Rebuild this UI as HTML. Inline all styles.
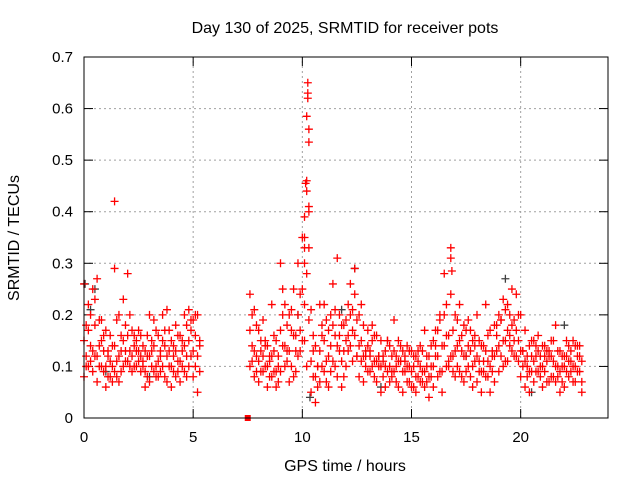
<!DOCTYPE html>
<html><head><meta charset="utf-8"><style>
body{margin:0;background:#fff}
svg{display:block;font-family:"Liberation Sans",Arial,sans-serif}
</style></head><body>
<svg id="chart" width="640" height="480" viewBox="0 0 640 480" xmlns="http://www.w3.org/2000/svg">
<text x="345" y="33" font-size="16" text-anchor="middle">Day 130 of 2025, SRMTID for receiver pots</text>
<text transform="translate(19,238) rotate(-90)" font-size="16" text-anchor="middle">SRMTID / TECUs</text>
<text x="345" y="471" font-size="16" text-anchor="middle">GPS time / hours</text>
<g id="grid"></g><g id="ticks"></g><g id="marks"></g>
<rect x="84" y="57" width="524" height="361" fill="none" stroke="#000" stroke-width="1"/>
</svg>
<script>
const xTicks=[0,5,10,15,20];
const yTicks=[0,0.1,0.2,0.3,0.4,0.5,0.6,0.7];
const yTickLabels=["0","0.1","0.2","0.3","0.4","0.5","0.6","0.7"];
const times=[0,0.2,0.4,0.6,0.8,1.0,1.2,1.4,1.6,1.8,2.0,2.2,2.4,2.6,2.8,3.0,3.2,3.4,3.6,3.8,4.0,4.2,4.4,4.6,4.8,5.0,5.2,
7.6,7.8,8.0,8.2,8.4,8.6,8.8,9.0,9.2,9.4,9.6,9.8,10.0,10.2,10.4,10.6,10.8,11.0,11.2,11.4,11.6,11.8,12.0,12.2,12.4,12.6,12.8,13.0,13.2,13.4,13.6,13.8,14.0,14.2,14.4,14.6,14.8,15.0,15.2,15.4,15.6,15.8,16.0,16.2,16.4,16.6,16.8,17.0,17.2,17.4,17.6,17.8,18.0,18.2,18.4,18.6,18.8,19.0,19.2,19.4,19.6,19.8,20.0,20.2,20.4,20.6,20.8,21.0,21.2,21.4,21.6,21.8,22.0,22.2,22.4,22.6,22.8];
const lowVals=[.08,.10,.09,.07,.10,.06,.08,.09,.07,.10,.11,.09,.10,.09,.06,.07,.09,.08,.10,.07,.06,.08,.07,.09,.10,.08,.05,
.10,.08,.07,.09,.06,.08,.06,.09,.10,.07,.08,.12,.15,.10,.05,.03,.07,.09,.06,.11,.08,.06,.10,.14,.16,.08,.07,.09,.10,.07,.05,.06,.07,.09,.06,.05,.07,.06,.05,.07,.06,.04,.06,.08,.05,.10,.12,.08,.09,.07,.10,.06,.07,.05,.08,.05,.07,.09,.10,.11,.13,.12,.08,.06,.05,.07,.09,.06,.07,.08,.07,.05,.06,.08,.07,.09,.05];
const midVals=[.15,.17,.13,.12,.15,.10,.11,.14,.12,.15,.16,.12,.13,.12,.09,.12,.14,.11,.15,.12,.10,.13,.11,.14,.15,.13,.12,
.17,.13,.11,.12,.10,.12,.09,.17,.14,.13,.16,.20,.25,.28,.11,.08,.13,.15,.12,.18,.14,.11,.15,.20,.24,.14,.12,.14,.15,.11,.10,.10,.10,.13,.11,.09,.10,.09,.08,.10,.09,.08,.10,.12,.09,.16,.24,.13,.15,.12,.14,.10,.12,.09,.13,.10,.12,.14,.15,.17,.18,.17,.13,.11,.09,.11,.13,.10,.11,.12,.10,.09,.10,.11,.10,.12,.07];
const highVals=[.26,.22,.25,.27,.19,.17,.16,.29,.20,.23,.28,.17,.15,.16,.13,.20,.19,.16,.20,.21,.15,.18,.16,.20,.21,.19,.20,
.24,.21,.17,.19,.14,.22,.15,.30,.22,.20,.25,.30,.35,.46,.21,.14,.22,.22,.17,.26,.31,.18,.19,.26,.29,.20,.18,.17,.18,.16,.15,.13,.14,.19,.15,.13,.14,.13,.12,.14,.17,.12,.15,.17,.14,.22,.33,.20,.22,.18,.19,.15,.20,.14,.22,.17,.18,.20,.23,.22,.25,.24,.20,.17,.14,.15,.16,.14,.13,.15,.18,.13,.12,.14,.15,.14,.11];
const times2=[0.1,0.3,0.5,0.7,0.9,1.1,1.3,1.5,1.7,1.9,2.1,2.3,2.5,2.7,2.9,3.1,3.3,3.5,3.7,3.9,4.1,4.3,4.5,4.7,4.9,5.1,5.3,
7.7,7.9,8.1,8.3,8.5,8.7,8.9,9.1,9.3,9.5,9.7,9.9,10.1,10.3,10.5,10.7,10.9,11.1,11.3,11.5,11.7,11.9,12.1,12.3,12.5,12.7,12.9,13.1,13.3,13.5,13.7,13.9,14.1,14.3,14.5,14.7,14.9,15.1,15.3,15.5,15.7,15.9,16.1,16.3,16.5,16.7,16.9,17.1,17.3,17.5,17.7,17.9,18.1,18.3,18.5,18.7,18.9,19.1,19.3,19.5,19.7,19.9,20.1,20.3,20.5,20.7,20.9,21.1,21.3,21.5,21.7,21.9,22.1,22.3,22.5,22.7];
const valsA=[.12,.20,.18,.14,.09,.13,.07,.11,.16,.13,.10,.14,.17,.11,.08,.15,.10,.13,.08,.17,.12,.09,.15,.12,.17,.10,.14,
.20,.12,.15,.10,.12,.09,.12,.20,.18,.10,.13,.24,.22,.19,.16,.10,.18,.11,.14,.16,.20,.13,.16,.17,.12,.11,.12,.13,.08,.12,.11,.15,.08,.12,.11,.11,.10,.12,.11,.07,.12,.14,.12,.19,.28,.11,.17,.10,.16,.12,.17,.11,.15,.14,.08,.12,.13,.19,.15,.20,.19,.15,.10,.08,.12,.14,.12,.09,.13,.11,.08,.12,.09,.13,.10,.09];
const valsB=[.18,.11,.23,.10,.13,.08,.14,.19,.09,.18,.13,.16,.11,.14,.12,.10,.17,.09,.14,.10,.14,.16,.10,.18,.12,.16,.09,
.14,.09,.13,.15,.08,.16,.07,.25,.11,.17,.09,.17,.30,.33,.08,.06,.10,.19,.09,.21,.13,.08,.13,.21,.19,.22,.10,.09,.16,.12,.08,.15,.09,.07,.11,.09,.13,.06,.08,.13,.07,.10,.14,.09,.20,.16,.09,.14,.08,.17,.08,.14,.09,.11,.11,.09,.18,.12,.21,.16,.15,.20,.13,.12,.09,.09,.08,.12,.07,.15,.10,.07,.12,.09,.14,.12];
const valsC=[.10,.14,.12,.19,.16,.12,.10,.08,.13,.11,.20,.10,.13,.10,.16,.13,.08,.12,.17,.13,.09,.11,.13,.08,.19,.20,.15,
.11,.18,.09,.14,.11,.13,.10,.14,.13,.21,.16,.13,.15,.40,.13,.10,.16,.07,.20,.10,.16,.18,.22,.11,.12,.15,.13,.12,.11,.10,.12,.09,.12,.10,.14,.12,.07,.10,.13,.09,.10,.08,.17,.20,.14,.10,.12,.19,.13,.09,.13,.16,.11,.09,.16,.13,.16,.19,.11,.14,.12,.11,.13,.10,.15,.12,.10,.14,.12,.08,.13,.10,.15,.11,.07,.14];
const spikeTimes=[10.25,10.25,10.3,10.3,10.15,10.2,10.3,10.1,1.4,10.1,16.8,10.2,10.1,10.25,16.85];
const spikeVals=[.65,.62,.56,.535,.455,.44,.41,.39,.42,.33,.31,.585,.35,.63,.285];
const grayTimes=[0.05,0.3,0.5,9.8,10.35,12.4,19.3,22.0,13.6,3.0,20.5,11.8,1.0,17.5];
const grayVals=[.26,.21,.25,.20,.04,.29,.27,.18,.06,.08,.05,.21,.09,.12];
const zeroTimes=[7.5];
const zeroVals=[0];

const NS="http://www.w3.org/2000/svg";
const X0=84,X1=608,Y0=418,Y1=57;
function xs(t){return X0+(t/24)*(X1-X0);}
function ys(v){return Y0-(v/0.7)*(Y0-Y1);}
function mk(tag,attrs,parent){const e=document.createElementNS(NS,tag);for(const k in attrs)e.setAttribute(k,attrs[k]);parent.appendChild(e);return e;}
const grid=document.getElementById('grid'),ticks=document.getElementById('ticks'),marks=document.getElementById('marks');
yTicks.forEach((v,i)=>{
 const y=ys(v);
 if(i>0&&i<yTicks.length-1){const g=mk('line',{x1:X0,x2:X1,y1:y,y2:y,stroke:'#a0a0a0','stroke-dasharray':'2,3'},grid);
 
 }
 mk('line',{x1:X0,x2:X0+9,y1:y,y2:y,stroke:'#000'},ticks);
 mk('line',{x1:X1-9,x2:X1,y1:y,y2:y,stroke:'#000'},ticks);
 const t=mk('text',{x:X0-11,y:y+5,'font-size':15,'text-anchor':'end'},ticks);t.textContent=yTickLabels[i];
 
 
});
xTicks.forEach(v=>{
 const x=xs(v);
 if(v>0){const g=mk('line',{x1:x,x2:x,y1:Y0,y2:Y1,stroke:'#a0a0a0','stroke-dasharray':'2,3'},grid);
 
 }
 mk('line',{x1:x,x2:x,y1:Y0,y2:Y0-9,stroke:'#000'},ticks);
 mk('line',{x1:x,x2:x,y1:Y1,y2:Y1+9,stroke:'#000'},ticks);
 const t=mk('text',{x:x,y:Y0+24,'font-size':15,'text-anchor':'middle'},ticks);t.textContent=String(v);
 
 
});
function cross(t,v,col,name){
 const x=xs(t),y=ys(v);
 const p=mk('path',{d:`M${x-4},${y}H${x+4}M${x},${y-4}V${y+4}`,stroke:col,'stroke-width':1.3,fill:'none'},marks);
 
 
}
grayTimes.forEach((t,i)=>cross(t,grayVals[i],'#404040','gray-point'));
[lowVals,midVals,highVals].forEach(arr=>times.forEach((t,i)=>cross(t,arr[i],'#ff0000','red-point')));
[valsA,valsB,valsC].forEach(arr=>times2.forEach((t,i)=>cross(t,arr[i],'#ff0000','red-point')));
spikeTimes.forEach((t,i)=>cross(t,spikeVals[i],'#ff0000','spike-point'));
zeroTimes.forEach((t,i)=>{const r=mk('rect',{x:xs(t)-3,y:ys(zeroVals[i])-3,width:6,height:6,fill:'#ff0000'},marks);
 
 });
</script>
</body></html>
